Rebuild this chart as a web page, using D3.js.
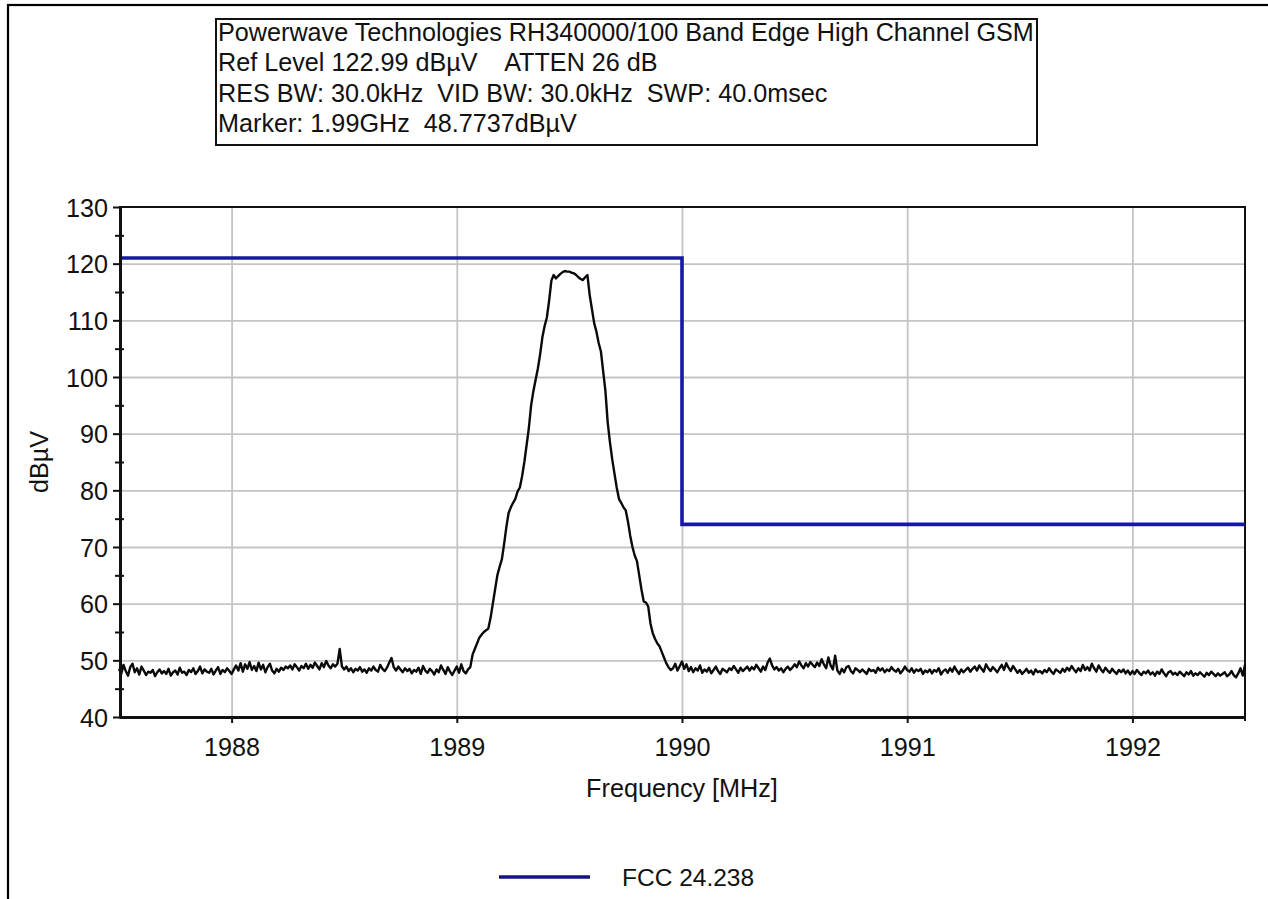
<!DOCTYPE html>
<html><head><meta charset="utf-8">
<script src="https://cdn.jsdelivr.net/npm/d3@7"></script>
<style>
html,body{margin:0;padding:0;background:#fff;}
svg{display:block;}
text{font-family:"Liberation Sans",Arial,sans-serif;fill:#111;}
</style>
</head><body>
<svg id="chart" width="1268" height="899"></svg>
<script>
// ---------------- data ----------------
const headerLines = [
  "Powerwave Technologies RH340000/100 Band Edge High Channel GSM",
  "Ref Level 122.99 dBµV    ATTEN 26 dB",
  "RES BW: 30.0kHz  VID BW: 30.0kHz  SWP: 40.0msec",
  "Marker: 1.99GHz  48.7737dBµV"
];
const xTickValues = [1988, 1989, 1990, 1991, 1992];
const yTickValues = [40, 50, 60, 70, 80, 90, 100, 110, 120, 130];
const yMinorTickValues = [45, 55, 65, 75, 85, 95, 105, 115, 125];
const xDomain = [1987.5, 1992.5];
const yDomain = [40, 130];
const xTitle = "Frequency [MHz]";
const yTitle = "dBµV";

// analyzer sweep: one reading every 0.01 MHz starting at 1987.50 MHz
const sweepStartMHz = 1987.5;
const sweepStepMHz = 0.01;
// 1987.50 .. 1989.05
const noiseBelow = [
  48.5, 47.6, 49.2, 48.1, 47.3, 48.8, 49.4, 47.9, 48.6, 47.5,
  48.9, 48.2, 47.4, 48.0, 47.8, 48.3, 47.2, 47.9, 48.4, 47.7,
  48.1, 47.6, 48.5, 47.3, 47.9, 48.2, 47.5, 48.7, 47.8, 48.0,
  47.4, 48.3, 47.9, 48.6, 47.6, 48.1, 48.9, 47.7, 48.4, 48.0,
  47.8, 48.5, 47.5, 48.2, 48.8, 47.6, 48.3, 47.9, 48.6, 48.1,
  47.6, 48.4, 49.1, 48.2, 49.5, 48.0, 49.3, 48.5, 49.7, 48.3,
  49.0, 48.1, 49.6, 48.4, 49.2, 47.9, 48.8, 49.4, 48.2, 47.7,
  48.5, 48.0, 48.7, 48.3, 48.9, 48.6, 49.1, 48.4, 49.3, 48.8,
  48.2, 49.0, 48.6, 49.4, 48.5, 49.2, 48.7, 49.6, 49.0, 48.4,
  49.5, 48.8, 49.9, 49.1, 48.6, 49.3, 48.9, 49.4, 52.0, 48.9,
  48.4, 48.9, 48.1, 48.6, 47.9, 48.5, 48.2, 48.8, 48.0, 48.4,
  47.8, 48.6, 48.2, 48.9, 48.3, 48.0, 49.2, 48.5, 48.1, 48.7,
  49.6, 50.4, 48.8, 48.2, 48.9, 48.4, 47.9, 48.6, 48.1, 48.5,
  47.7, 48.3, 48.0, 48.7, 47.6, 49.0, 48.2, 47.8, 48.5, 48.1,
  47.5, 48.4, 47.9, 49.1, 48.3, 47.6, 48.8, 48.0, 47.4, 48.2,
  48.9, 47.8, 49.3, 48.1, 47.7, 48.4
];
// 1989.06 .. 1989.95
const carrier = [
  48.8, 51.0, 52.0, 53.0,
  54.0, 54.5, 55.0, 55.3, 55.6, 57.5, 60.0, 62.5, 65.0, 66.5,
  67.8, 70.5, 73.5, 76.0, 77.0, 77.8, 78.5, 79.8, 80.5, 82.5,
  85.0, 88.0, 91.0, 95.0, 97.5, 99.5, 101.5, 104.0, 107.0, 109.0,
  110.5, 113.5, 117.0, 118.0, 117.4, 117.8, 118.2, 118.5, 118.7, 118.6,
  118.6, 118.4, 118.3, 118.0, 117.6, 117.3, 117.1, 117.6, 118.0, 114.5,
  112.0, 109.5, 108.0, 106.0, 104.5, 101.0, 97.5, 92.0, 88.5, 85.5,
  83.0, 80.5, 78.5, 77.8, 77.0, 76.5, 74.5, 72.0, 70.0, 68.5,
  67.5, 65.0, 62.5, 60.4, 60.2, 59.5, 56.5, 54.8, 53.8, 53.0,
  52.5, 51.5, 50.5, 49.5, 48.8, 48.3
];
// 1989.96 .. 1992.50
const noiseAbove = [
  48.6, 49.4, 48.2, 49.0,
  49.8, 48.5, 49.3, 48.1, 48.8, 47.9, 48.6, 48.2, 49.1, 47.8,
  48.4, 48.0, 48.7, 47.7, 48.3, 48.9, 48.1, 47.6, 48.5, 48.2,
  47.9, 48.6, 48.3, 49.0, 48.4, 47.8, 48.7, 48.1, 48.5, 48.9,
  48.2, 48.8, 48.4, 49.2, 48.6, 48.0, 48.9, 48.3, 49.6, 50.3,
  49.1, 48.4, 48.8, 48.2, 48.6, 47.9, 48.5, 48.9, 48.3, 48.7,
  49.3, 48.8, 49.8, 49.1, 48.6, 49.5, 48.9, 49.7, 49.2, 48.8,
  49.6, 49.0, 50.2, 49.3, 48.6, 50.5, 49.1, 48.4, 50.8, 48.2,
  47.6, 48.5, 47.9, 48.8, 49.0, 48.1, 47.7, 48.6, 48.3, 47.9,
  48.4, 48.0, 47.6, 48.5, 48.1, 48.3, 47.8, 48.7, 48.2, 48.6,
  47.9, 48.4, 48.1, 48.8, 48.3, 48.0, 48.5, 47.7, 48.2, 48.9,
  48.3, 48.0, 48.6, 47.8, 48.4, 48.1, 48.5, 47.6, 48.2, 47.9,
  48.4, 47.7, 48.3, 48.0, 48.6, 47.5, 48.1, 48.4, 47.8, 48.6,
  48.0, 48.9, 48.2, 47.6, 48.4, 47.9, 48.3, 48.7, 48.0, 48.5,
  48.9, 48.2, 49.1, 48.5, 48.0, 49.3, 48.6, 48.1, 48.8, 48.4,
  47.9, 48.6, 49.2, 48.3, 49.5, 48.7, 48.1, 49.0, 48.4, 47.8,
  48.3, 47.6, 48.0, 48.5, 47.8, 48.2, 47.5, 48.4, 47.9, 48.1,
  47.7, 48.3, 47.9, 48.6, 48.0, 47.6, 48.4, 48.1, 47.8, 48.5,
  48.0, 48.7, 48.2, 49.0, 48.4, 47.9, 48.6, 48.1, 49.2, 48.3,
  48.8, 48.2, 49.4, 48.6, 48.0, 49.1, 48.4, 47.9, 48.7, 48.2,
  47.8, 48.5, 48.0, 47.6, 48.3, 47.9, 48.4, 47.7, 48.2, 47.5,
  48.1, 47.6, 48.3, 47.8, 47.4, 48.0, 47.7, 48.2, 47.5, 47.9,
  47.3, 48.0, 47.6, 48.4, 47.7, 47.2, 47.9, 48.1, 47.5, 47.8,
  47.4, 48.0, 47.6, 47.2, 47.9, 47.5, 48.1, 47.3, 47.7, 47.4,
  47.9, 47.5, 47.1, 47.8, 47.4, 48.0, 47.6, 47.2, 47.7, 47.3,
  47.6, 47.9, 47.2, 47.5, 48.1, 47.4, 47.0, 47.7, 48.6, 47.3, 49.2
];
// FCC 24.238 limit mask
const limitFreqs = [1987.5, 1990, 1990, 1992.5];
const limitLevels = [121, 121, 74, 74];
const legendLabels = ["FCC 24.238"];

// ---------------- drawing ----------------
const svg = d3.select("#chart");
const FONT = 25.2;
const plot = {left: 119, right: 1245, top: 207, bottom: 717};
const limitColor = "#1818a8";

const x = d3.scaleLinear().domain(xDomain).range([plot.left, plot.right]);
const y = d3.scaleLinear().domain(yDomain).range([plot.bottom, plot.top]);

// outer frame
svg.append("rect").attr("x", 8).attr("y", 5).attr("width", 1400).attr("height", 1000)
  .attr("fill", "none").attr("stroke", "#000").attr("stroke-width", 2.2);

// header box
const hb = svg.append("g");
hb.append("rect").attr("x", 216).attr("y", 19).attr("width", 821).attr("height", 126)
  .attr("fill", "#fff").attr("stroke", "#111").attr("stroke-width", 2);
hb.selectAll("text").data(headerLines).join("text")
  .attr("x", 218).attr("y", (d, i) => 41 + i * 30.3)
  .style("white-space", "pre").style("font-size", FONT + "px")
  .text(d => d);

// grid
svg.append("g").attr("transform", `translate(0,${plot.bottom})`)
  .call(d3.axisBottom(x).tickValues(xTickValues).tickSize(-(plot.bottom - plot.top)).tickFormat(""))
  .call(g => g.select(".domain").remove())
  .call(g => g.selectAll("line").attr("stroke", "#c4c4c4").attr("stroke-width", 1.8));
svg.append("g").attr("transform", `translate(${plot.left},0)`)
  .call(d3.axisLeft(y).tickValues(yTickValues.filter(v => v > yDomain[0] && v < yDomain[1]))
    .tickSize(-(plot.right - plot.left)).tickFormat(""))
  .call(g => g.select(".domain").remove())
  .call(g => g.selectAll("line").attr("stroke", "#c4c4c4").attr("stroke-width", 1.8));

// top and right frame
svg.append("path")
  .attr("d", `M${plot.left},${plot.top}H${plot.right}V${plot.bottom + 4}`)
  .attr("fill", "none").attr("stroke", "#111").attr("stroke-width", 2);

// trace
const levels = noiseBelow.concat(carrier, noiseAbove);
const trace = levels.map((v, i) => ({f: sweepStartMHz + i * sweepStepMHz, v}));
svg.append("path").datum(trace)
  .attr("fill", "none").attr("stroke", "#0a0a0a").attr("stroke-width", 2.4)
  .attr("stroke-linejoin", "round")
  .attr("d", d3.line().x(d => x(d.f)).y(d => y(d.v)));

// limit line
const limit = limitFreqs.map((f, i) => ({f, v: limitLevels[i]}));
svg.append("path").datum(limit)
  .attr("fill", "none").attr("stroke", limitColor).attr("stroke-width", 3.6)
  .attr("d", d3.line().x(d => x(d.f)).y(d => y(d.v)));

// x axis
const xa = svg.append("g").attr("transform", `translate(0,${plot.bottom})`)
  .call(d3.axisBottom(x).tickValues(xTickValues).tickSize(6).tickSizeOuter(0).tickFormat(d3.format("d")));
xa.select(".domain").attr("stroke", "#111").attr("stroke-width", 3);
xa.selectAll(".tick line").attr("stroke", "#111").attr("stroke-width", 2);
xa.selectAll(".tick text").attr("y", 39).attr("dy", 0)
  .style("font-size", FONT + "px").attr("fill", "#111");

// y axis major
const ya = svg.append("g").attr("transform", `translate(${plot.left + 1},0)`)
  .call(d3.axisLeft(y).tickValues(yTickValues).tickSize(7).tickSizeOuter(0).tickPadding(5));
ya.select(".domain").attr("stroke", "#111").attr("stroke-width", 3);
ya.selectAll(".tick line").attr("stroke", "#111").attr("stroke-width", 2);
ya.selectAll(".tick text").attr("dy", "0.36em")
  .style("font-size", FONT + "px").attr("fill", "#111");

// y axis minor (crossing ticks)
const ym = svg.append("g").attr("transform", `translate(${plot.left + 5},0)`)
  .call(d3.axisLeft(y).tickValues(yMinorTickValues).tickSize(9).tickFormat(""));
ym.select(".domain").remove();
ym.selectAll(".tick line").attr("stroke", "#111").attr("stroke-width", 2);

// axis titles
svg.append("text").attr("x", (plot.left + plot.right) / 2).attr("y", 797)
  .attr("text-anchor", "middle").style("font-size", FONT + "px").text(xTitle);
svg.append("text").attr("transform", `translate(48,${(plot.top + plot.bottom) / 2}) rotate(-90)`)
  .attr("text-anchor", "middle").style("font-size", FONT + "px").text(yTitle);

// legend
const lg = svg.append("g");
lg.selectAll("line").data(legendLabels).join("line")
  .attr("x1", 499).attr("x2", 590).attr("y1", 877).attr("y2", 877)
  .attr("stroke", "#14147e").attr("stroke-width", 3.6);
lg.selectAll("text").data(legendLabels).join("text")
  .attr("x", 622).attr("y", 886).style("font-size", "24.5px").text(d => d);
</script>
</body></html>
